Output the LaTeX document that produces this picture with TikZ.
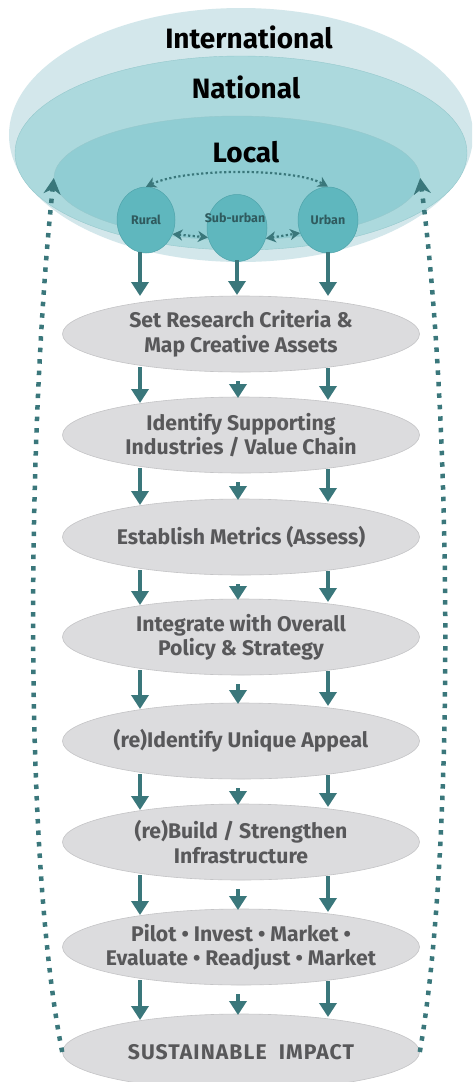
\documentclass[tikz,border=0pt]{standalone}
\usepackage{fontspec}
\setmainfont{Fira Sans}
\usetikzlibrary{shapes.geometric,arrows.meta,calc}
\definecolor{intlc}{HTML}{D3E7EB}
\definecolor{natlc}{HTML}{ACD9DD}
\definecolor{localc}{HTML}{90CDD3}
\definecolor{circc}{HTML}{5FB7BE}
\definecolor{circline}{HTML}{4FA3AA}
\definecolor{arrowc}{HTML}{3A777B}
\definecolor{stepfill}{HTML}{DCDCDE}
\definecolor{stepline}{HTML}{C4C4C6}
\definecolor{steptext}{HTML}{58585A}
\definecolor{circtext}{HTML}{2F5A5E}
\tikzset{
  levelbox/.style={ellipse, inner sep=0pt},
  title/.style={font=\bfseries\fontsize{28}{30}\selectfont, text=black, inner sep=0pt},
  stepbox/.style={ellipse, fill=stepfill, draw=stepline, line width=0.6pt, minimum width=357pt, minimum height=76pt, inner xsep=-30pt, inner ysep=0pt, align=center, text=steptext, font=\bfseries\fontsize{21.2}{24.5}\selectfont},
  place/.style={ellipse, fill=circc, draw=circline, line width=0.5pt, inner sep=0pt, text=circtext, font=\bfseries\fontsize{12.5}{13}\selectfont},
  arr/.style={draw=arrowc, line width=3.8pt, -{Triangle[length=14pt,width=17pt]}},
  bigdot/.style={draw=arrowc, line width=4.5pt, dash pattern=on 4.5pt off 7pt, -{Stealth[length=16pt,width=17pt,inset=5pt]}},
  smalldot/.style={draw=arrowc, line width=2.2pt, dash pattern=on 2.2pt off 2.4pt, {Stealth[length=10pt,width=11pt,inset=3pt]}-{Stealth[length=10pt,width=11pt,inset=3pt]}}
}
\begin{document}
\begin{tikzpicture}[x=1pt,y=-1pt]
\clip (0,0) rectangle (472,1082);
\fill[white] (0,0) rectangle (472,1082);
% levels
\node[levelbox, fill=intlc, minimum width=464pt, minimum height=254pt] (intl) at (241,135) {};
\node[levelbox, fill=natlc, draw=circline!60, line width=0.4pt, minimum width=452pt, minimum height=194pt] (natl) at (241,153) {};
\node[levelbox, fill=localc, draw=circline!60, line width=0.4pt, minimum width=366pt, minimum height=124pt] (local) at (237,178) {};
\node[title] (tI) at (249,37) {International};
\node[title] (tN) at (246,87) {National};
\node[title] (tL) at (246,152) {Local};
% places
\node[place, minimum width=58pt, minimum height=66pt] (rural) at (146,220) {Rural};
\node[place, minimum width=60pt, minimum height=67pt] (sub) at (237,228) {};
\node[place, minimum width=60pt, minimum height=66pt] (urban) at (328,220) {Urban};
\node[text=circtext, font=\bfseries\fontsize{12.5}{13}\selectfont, inner sep=0pt] (subt) at (235,218) {Sub-urban};
\draw[smalldot] (rural.north) .. controls (185,168) and (295,168) .. (urban.north);
\draw[smalldot] (rural.-28) -- (sub.198);
\draw[smalldot] (sub.-20) -- (urban.205);
% steps
\node[stepbox] (s1) at (241,334) {Set Research Criteria \&\\Map Creative Assets};
\node[stepbox] (s2) at (241,435) {Identify Supporting\\Industries / Value Chain};
\node[stepbox] (s3) at (241,537) {Establish Metrics (Assess)};
\node[stepbox] (s4) at (241,637) {Integrate with Overall\\Policy \& Strategy};
\node[stepbox] (s5) at (241,741) {(re)Identify Unique Appeal};
\node[stepbox] (s6) at (241,842) {(re)Build / Strengthen\\Infrastructure};
\node[stepbox] (s7) at (241,947) {Pilot • Invest • Market •\\Evaluate • Readjust • Market};
\node[stepbox] (s8) at (241,1052) {\addfontfeature{LetterSpace=5}SUSTAINABLE\ \ IMPACT};
% arrows from places
\draw[arr] ($(rural.center)+(-6,32)$) -- ($(s1.center)+(-101,-38)$);
\draw[arr] ($(sub.center)+(0,32)$) -- ($(s1.center)+(-4,-39)$);
\draw[arr] ($(urban.center)+(0,32)$) -- ($(s1.center)+(87,-38)$);
% arrows between steps
\foreach \a/\b in {s1/s2,s2/s3,s3/s4,s4/s5,s5/s6,s6/s7,s7/s8} {
  \draw[arr] ($(\a.center)+(-101,33)$) -- ($(\b.center)+(-101,-32)$);
  \draw[arr] ($(\a.center)+(-3,47)$) -- ($(\b.center)+(-3,-37)$);
  \draw[arr] ($(\a.center)+(87,34)$) -- ($(\b.center)+(87,-35)$);
}
% feedback loops
\draw[bigdot] (s8.west) .. controls (22,850) and (28,420) .. (local.west);
\draw[bigdot] (s8.east) .. controls (455,850) and (452,420) .. (local.east);
\end{tikzpicture}
\end{document}
